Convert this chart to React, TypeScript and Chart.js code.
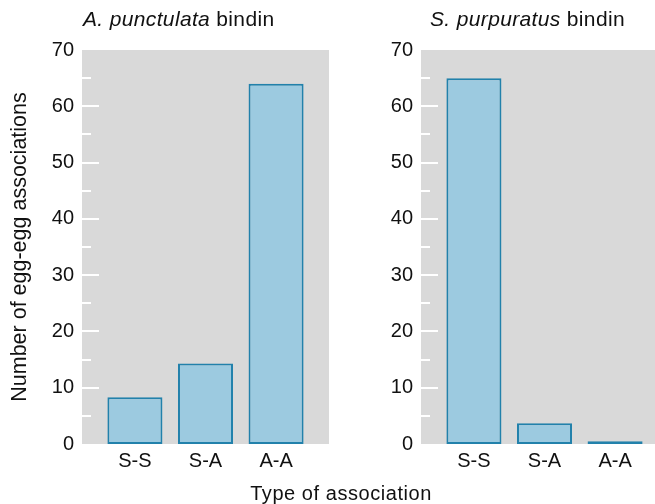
import React, { useEffect, useRef } from 'react';
import { Chart, registerables } from 'chart.js';

Chart.register(...registerables);

const categories = ['S-S', 'S-A', 'A-A'];
const punctulataValues = [8.3, 14.3, 64];
const purpuratusValues = [65, 3.7, 0.5];
const yMin = 0;
const yMax = 70;
const yStep = 10;
const minorStep = 5;

const FONT_FAMILY = '"Liberation Sans", Arial, Helvetica, sans-serif';
const TEXT_COLOR = '#111111';
const PANEL_BG = '#d9d9d9';
const BAR_FILL = '#9ccae0';
const BAR_BORDER = '#2281ab';

const decorPlugin = {
  id: 'panelDecor',
  beforeDatasetsDraw(chart: any) {
    const { ctx, chartArea: a, scales } = chart;
    const y = scales.y;
    ctx.save();
    ctx.fillStyle = PANEL_BG;
    ctx.fillRect(a.left, a.top, a.right - a.left, a.bottom - a.top);
    ctx.strokeStyle = '#ffffff';
    ctx.lineWidth = 2;
    for (let v = yMin + minorStep; v < yMax; v += minorStep) {
      const py = Math.round(y.getPixelForValue(v));
      const len = v % yStep === 0 ? 17 : 9;
      ctx.beginPath();
      ctx.moveTo(a.left, py);
      ctx.lineTo(a.left + len, py);
      ctx.stroke();
    }
    ctx.restore();
  },
};

function Panel(props: { values: number[]; left: number; yWidth: number; showYTitle: boolean }) {
  const ref = useRef<HTMLCanvasElement | null>(null);
  useEffect(() => {
    if (!ref.current) return;
    const font = { family: FONT_FAMILY, size: 20 };
    const chart = new Chart(ref.current, {
      type: 'bar',
      data: {
        datasets: [
          {
            data: props.values.map((v, i) => ({ x: i, y: v })),
            backgroundColor: BAR_FILL,
            borderColor: BAR_BORDER,
            borderWidth: 2,
            borderSkipped: false,
            categoryPercentage: 1,
            barPercentage: 0.78,
          } as any,
        ],
      },
      options: {
        responsive: false,
        animation: false,
        layout: { padding: { top: 50, right: 340 - props.yWidth - 247, left: 0, bottom: 0 } },
        plugins: {
          legend: { display: false },
          tooltip: { enabled: false },
          title: { display: false },
        },
        scales: {
          x: {
            type: 'linear',
            offset: false,
            min: -0.75,
            max: categories.length - 1 + 0.75,
            grid: { display: false, drawTicks: false, offset: false },
            border: { display: false },
            afterBuildTicks: (s: any) => {
              s.ticks = categories.map((_, i) => ({ value: i }));
            },
            afterFit: (s: any) => {
              s.height = 60;
            },
            ticks: {
              callback: (v: any) => categories[v as number] ?? '',
              font,
              color: TEXT_COLOR,
              padding: 5,
              autoSkip: false,
              maxRotation: 0,
            },
          },
          y: {
            min: yMin,
            max: yMax,
            grid: { display: false, drawTicks: false },
            border: { display: false },
            afterFit: (s: any) => {
              s.width = props.yWidth;
            },
            ticks: { stepSize: yStep, font, color: TEXT_COLOR, padding: 8 },
            title: {
              display: props.showYTitle,
              text: 'Number of egg-egg associations',
              font: { family: FONT_FAMILY, size: 21.5 },
              color: TEXT_COLOR,
              padding: { top: 7, bottom: 0 },
            },
          },
        },
      } as any,
      plugins: [decorPlugin],
    });
    return () => chart.destroy();
  }, []);
  return (
    <canvas
      ref={ref}
      width={340}
      height={504}
      style={{ position: 'absolute', left: props.left, top: 0, width: 340, height: 504, display: 'block' }}
    />
  );
}

const titleStyle: React.CSSProperties = {
  position: 'absolute',
  top: 7,
  fontFamily: FONT_FAMILY,
  fontSize: 21,
  letterSpacing: '0.35px',
  color: TEXT_COLOR,
  whiteSpace: 'nowrap',
  lineHeight: 'normal',
};

export default function App() {
  return (
    <div
      style={{
        position: 'absolute',
        left: 0,
        top: 0,
        width: 655,
        height: 504,
        overflow: 'hidden',
        background: '#ffffff',
      }}
    >
      <Panel values={punctulataValues} left={0} yWidth={82} showYTitle={true} />
      <Panel values={purpuratusValues} left={340} yWidth={81} showYTitle={false} />
      <div style={{ ...titleStyle, left: 83 }}>
        <i>A. punctulata</i> bindin
      </div>
      <div style={{ ...titleStyle, left: 430 }}>
        <i>S. purpuratus</i> bindin
      </div>
      <div
        style={{
          ...titleStyle,
          top: 482,
          left: 341,
          fontSize: 20,
          letterSpacing: '0.55px',
          transform: 'translateX(-50%)',
        }}
      >
        Type of association
      </div>
    </div>
  );
}
